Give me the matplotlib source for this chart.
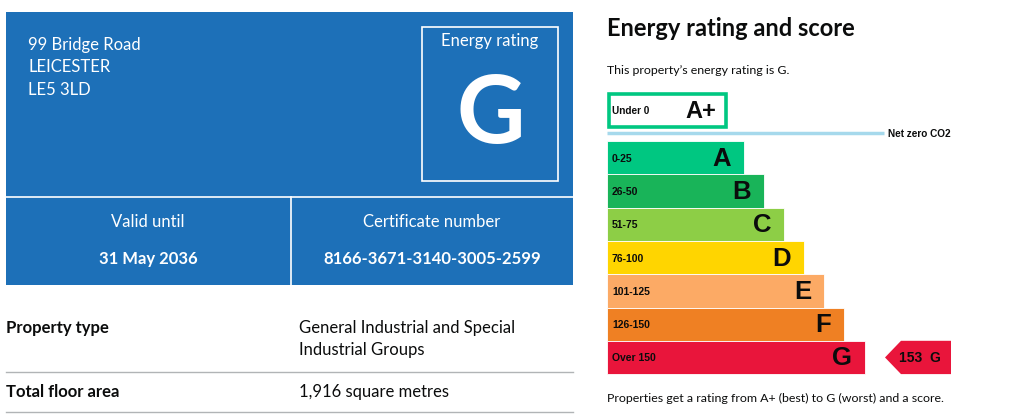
import matplotlib
matplotlib.use("Agg")
import matplotlib.pyplot as plt
from matplotlib.patches import Rectangle, Polygon

# certificate data
address_lines = ["99 Bridge Road", "LEICESTER", "LE5 3LD"]
current_rating = "G"
valid_until = "31 May 2036"
certificate_number = "8166-3671-3140-3005-2599"
property_type = ["General Industrial and Special", "Industrial Groups"]
floor_area = "1,916 square metres"

# rating bands (A+ drawn separately as an outlined box)
band_letters = ["A", "B", "C", "D", "E", "F", "G"]
band_ranges = ["0-25", "26-50", "51-75", "76-100", "101-125", "126-150", "Over 150"]
band_colors = ["#00c781", "#19b459", "#8dce46", "#ffd500", "#fcaa65", "#ef8023", "#e9153b"]
band_lengths = [137, 157, 177, 197, 217, 237, 258]
score = 153

BLUE = "#1d70b8"
GREY = "#b1b4b6"
UI_FONT = ["Lato", "DejaVu Sans"]
CHART_FONT = ["Liberation Sans", "DejaVu Sans"]

fig = plt.figure(figsize=(10.34, 4.19), dpi=100)
ax = fig.add_axes([0, 0, 1, 1])
ax.set_xlim(0, 1034)
ax.set_ylim(419, 0)
ax.axis("off")

# ---- left panel: blue header ----
ax.add_patch(Rectangle((6, 12), 567, 273, color=BLUE, lw=0))
ax.plot([6, 573], [196.5, 196.5], color="white", lw=1.2)
ax.plot([291, 291], [197, 285], color="white", lw=1.2)
ax.add_patch(Rectangle((422, 27), 136, 154, fill=False, ec="white", lw=1.2))

for i, line in enumerate(address_lines):
    ax.text(28, 45 + i * 22.5, line, color="white", fontsize=12,
            family=UI_FONT, va="center", ha="left")
ax.text(490, 41, "Energy rating", color="white", fontsize=12,
        family=UI_FONT, va="center", ha="center")
ax.text(491, 116, current_rating, color="white", fontsize=68, weight="bold",
        family=UI_FONT, va="center", ha="center")

ax.text(148, 222, "Valid until", color="white", fontsize=12,
        family=UI_FONT, va="center", ha="center")
ax.text(148, 259, valid_until, color="white", fontsize=12, weight="bold",
        family=UI_FONT, va="center", ha="center")
ax.text(432, 222, "Certificate number", color="white", fontsize=12,
        family=UI_FONT, va="center", ha="center")
ax.text(432, 259, certificate_number, color="white", fontsize=12, weight="bold",
        family=UI_FONT, va="center", ha="center")

# ---- left panel: summary rows ----
ax.text(6, 328, "Property type", fontsize=12, weight="bold", family=UI_FONT,
        va="center", color="#0b0c0c")
for i, line in enumerate(property_type):
    ax.text(299, 328 + i * 22, line, fontsize=12, family=UI_FONT,
            va="center", color="#0b0c0c")
ax.plot([6, 573], [372, 372], color=GREY, lw=1)
ax.text(6, 392, "Total floor area", fontsize=12, weight="bold", family=UI_FONT,
        va="center", color="#0b0c0c")
ax.text(299, 392, floor_area, fontsize=12, family=UI_FONT,
        va="center", color="#0b0c0c")
ax.plot([6, 573], [412, 412], color=GREY, lw=1)

# ---- right panel ----
ax.text(607, 29, "Energy rating and score", fontsize=17, weight="bold",
        family=UI_FONT, va="center", color="#0b0c0c")
ax.text(607, 70, f"This property\u2019s energy rating is {current_rating}.",
        fontsize=8.9, family=UI_FONT, va="center", color="#0b0c0c")

# A+ box
ax.add_patch(Rectangle((609, 94), 117, 33, fill=False, ec="#00c781", lw=2.6))
ax.text(612, 111, "Under 0", fontsize=7.2, weight="bold", family=CHART_FONT,
        va="center", color="#0b0c0c")
ax.text(701, 111, "A+", fontsize=17, weight="bold", family=CHART_FONT,
        va="center", ha="center", color="#0b0c0c")

# net zero line
ax.plot([607, 884], [133.5, 133.5], color="#a6d9ec", lw=2.5, solid_capstyle="butt")
ax.text(888, 134, "Net zero CO2", fontsize=7.2, weight="bold", family=CHART_FONT,
        va="center", color="#0b0c0c")

bar_top = 141
bar_h = 33.3
centers = [bar_top + bar_h * (i + 0.5) for i in range(len(band_letters))]
ax.barh(centers, band_lengths, height=bar_h, left=607, color=band_colors,
        edgecolor="white", linewidth=0.6)
for c, ln, letter, rng in zip(centers, band_lengths, band_letters, band_ranges):
    ax.text(612, c + 1, rng, fontsize=7.5, weight="bold", family=CHART_FONT,
            va="center", color="#0b0c0c")
    ax.text(607 + ln - 13, c + 1, letter, fontsize=18.5, weight="bold",
            family=CHART_FONT, va="center", ha="right", color="#0b0c0c")

# score arrow on the current band
g_idx = band_letters.index(current_rating)
cy = centers[g_idx]
ax.add_patch(Polygon([(885, cy), (901, cy - bar_h / 2), (951, cy - bar_h / 2),
                      (951, cy + bar_h / 2), (901, cy + bar_h / 2)],
                     closed=True, color=band_colors[g_idx], lw=0))
ax.text(920, cy + 1, f"{score}  {current_rating}", fontsize=10, weight="bold",
        family=CHART_FONT, va="center", ha="center", color="#0b0c0c")

ax.text(607, 398, "Properties get a rating from A+ (best) to G (worst) and a score.",
        fontsize=8.9, family=UI_FONT, va="center", color="#0b0c0c")

fig.savefig("out.png", dpi=100)
